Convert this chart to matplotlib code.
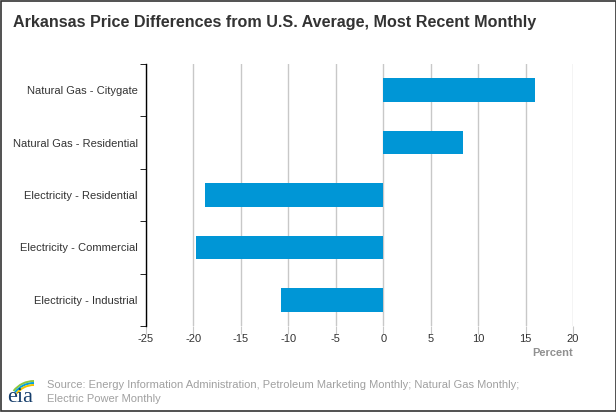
import matplotlib.pyplot as plt
import numpy as np
from matplotlib.patches import Rectangle, Arc

categories = ['Natural Gas - Citygate', 'Natural Gas - Residential',
              'Electricity - Residential', 'Electricity - Commercial',
              'Electricity - Industrial']
values = [16.0, 8.4, -18.8, -19.7, -10.8]
xticks = [-25, -20, -15, -10, -5, 0, 5, 10, 15, 20]

W, H = 616, 412
fig = plt.figure(figsize=(W / 100, H / 100), dpi=100)
plt.rcParams['font.family'] = ['Liberation Sans', 'DejaVu Sans']

ax = fig.add_axes([146 / W, 1 - 326 / H, (573 - 146) / W, (326 - 64) / H])
y = np.arange(len(categories))[::-1]
ax.barh(y, values, height=0.45, color='#0096d6', zorder=3)

ax.set_xlim(-25, 20)
ax.set_ylim(-0.5, len(categories) - 0.5)
ax.set_xticks(xticks)
ax.set_xticklabels([str(t) for t in xticks])
ax.set_yticks(y)
ax.set_yticklabels(categories)
ax.set_yticks(np.arange(-0.5, len(categories), 1.0), minor=True)

ax.grid(axis='x', color='#c8c8c8', linewidth=1, zorder=0)
ax.tick_params(axis='x', length=6, color='#c8c8c8', labelsize=8,
               labelcolor='#333333', pad=0)
ax.tick_params(axis='y', which='major', length=0, labelsize=8,
               labelcolor='#333333', pad=6)
ax.tick_params(axis='y', which='minor', length=4, color='black')

for s in ['top', 'right', 'bottom']:
    ax.spines[s].set_visible(False)
ax.spines['left'].set_color('black')
ax.spines['left'].set_linewidth(1)

fig.text(573 / W, 1 - 353 / H, 'Percent', ha='right', va='center',
         fontsize=8, color='#909090', fontweight='bold')

fig.text(13 / W, 1 - 23 / H,
         'Arkansas Price Differences from U.S. Average, Most Recent Monthly',
         ha='left', va='center', fontsize=11.6, fontweight='bold',
         color='#333333')

fig.text(47 / W, 1 - 385 / H,
         'Source: Energy Information Administration, Petroleum Marketing Monthly; Natural Gas Monthly;',
         ha='left', va='center', fontsize=8, color='#a0a0a0')
fig.text(47 / W, 1 - 399 / H, 'Electric Power Monthly',
         ha='left', va='center', fontsize=8, color='#a0a0a0')

# eia logo, drawn in pixel coordinates
lax = fig.add_axes([0, 1 - 410 / H, 44 / W, 38 / H])
lax.set_xlim(0, 44)
lax.set_ylim(410, 372)
lax.axis('off')
lax.text(20, 398, 'eia', ha='center', va='center', fontsize=16,
         family='Liberation Serif', color='#163e6c')
for r, top, c in [(26, 381, '#8cc63f'), (24, 383, '#00a0dc'),
                  (22, 385, '#f2c300')]:
    lax.add_patch(Arc((34, top + r), 2 * r, 2 * r, theta1=218, theta2=270,
                      color=c, linewidth=1.4))

fig.add_artist(Rectangle((0.5 / W, 1.5 / H), 1 - 1 / W, 1 - 2 / H,
                         transform=fig.transFigure, fill=False,
                         edgecolor='#333333', linewidth=1.2))

fig.savefig('out.png', dpi=100)
